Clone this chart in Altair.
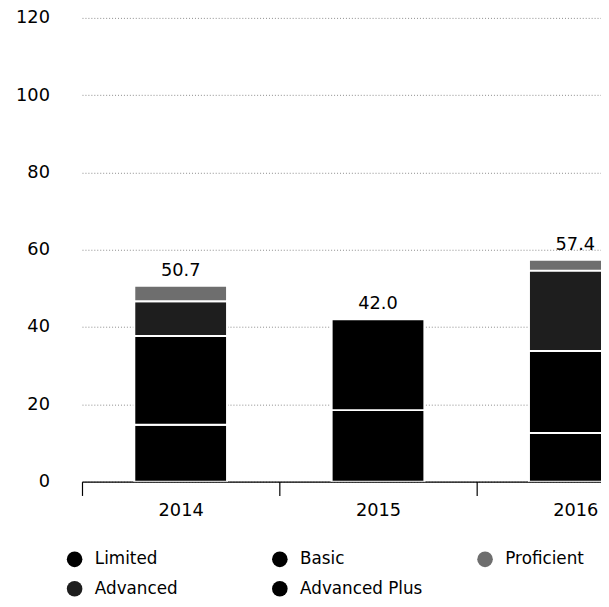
import altair as alt
import pandas as pd

years = ["2014", "2014", "2014", "2014", "2015", "2015", "2016", "2016", "2016", "2016"]
levels = ["Limited", "Basic", "Advanced", "Proficient", "Limited", "Basic",
          "Limited", "Basic", "Advanced", "Proficient"]
values = [14.7, 23.0, 9.0, 4.0, 18.5, 23.5, 12.6, 21.2, 20.8, 2.8]

# legend is filled column by column: (Limited, Advanced) (Basic, Advanced Plus) (Proficient)
legend_order = ["Limited", "Advanced", "Basic", "Advanced Plus", "Proficient"]
colors = ["#000000", "#1e1e1e", "#000000", "#000000", "#6e6e6e"]
stack_order = {"Limited": 0, "Basic": 1, "Advanced": 2, "Proficient": 3, "Advanced Plus": 4}

df = pd.DataFrame({"year": years, "level": levels, "value": values})
df["ord"] = df["level"].map(stack_order)

FONT = "DejaVu Sans"
FS = 18

x = alt.X("year:N", title=None,
          scale=alt.Scale(range=[13, 613], paddingInner=0, paddingOuter=0),
          axis=alt.Axis(labelAngle=0, labelFontSize=FS, labelColor="black",
                        labelPadding=6, domainColor="black", domainWidth=1.2,
                        tickColor="black", tickSize=14, tickWidth=1.2,
                        tickBand="extent", grid=False))

y = alt.Y("sum(value):Q", title=None, scale=alt.Scale(domain=[0, 120], nice=False),
          axis=alt.Axis(values=[0, 20, 40, 60, 80, 100, 120], domain=False, ticks=False,
                        labelFontSize=FS, labelColor="black", labelPadding=20,
                        grid=True, gridColor="#8a8a8a", gridDash=[1, 2], gridWidth=1))

bars = alt.Chart(df).mark_bar(clip=True, stroke="white", strokeWidth=2,
                              width=alt.RelativeBandSize(0.47)).encode(
    x=x,
    y=y,
    color=alt.Color("level:N", scale=alt.Scale(domain=legend_order, range=colors),
                    legend=alt.Legend(title=None, orient="none", legendX=-3, legendY=540,
                                      columns=3, symbolType="circle", symbolSize=250,
                                      symbolStrokeWidth=0, labelFontSize=17,
                                      labelColor="black", labelOffset=12,
                                      columnPadding=55, rowPadding=12,
                                      gridAlign="all", labelLimit=220)),
    order=alt.Order("ord:Q"),
)

labels = alt.Chart(df).mark_text(dy=-15, fontSize=FS, color="black", font=FONT, clip=True).encode(
    x=alt.X("year:N"),
    y=alt.Y("sum(value):Q"),
    text=alt.Text("sum(value):Q", format=".1f"),
)

chart = alt.layer(bars, labels).properties(
    width=539, height=470,
    autosize=alt.AutoSizeParams(type="none"),
    padding={"left": 62, "top": 6, "right": 0, "bottom": 120},
).configure(font=FONT).configure_view(stroke=None)

chart.save("out.html", embed_options={"renderer": "svg", "actions": False})
